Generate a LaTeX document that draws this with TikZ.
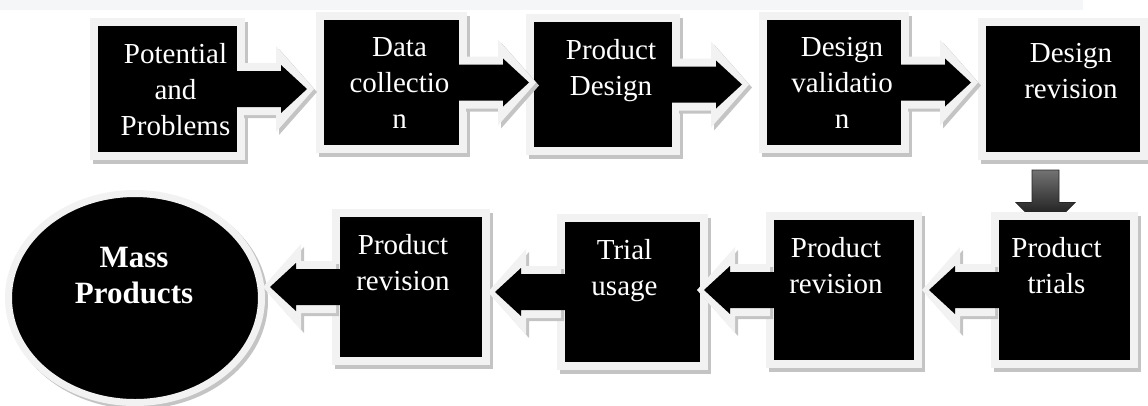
\documentclass[tikz,border=0pt]{standalone}
\usepackage{fontspec}
\setmainfont{Liberation Serif}
\usetikzlibrary{calc,shadows,shapes.geometric,backgrounds}
\definecolor{framegray}{HTML}{F2F2F2}
\definecolor{shadegray}{HTML}{C4C4C4}
\definecolor{bandgray}{HTML}{F5F6F8}
\tikzset{
	stage/.style={rectangle, fill=black, draw=framegray, line width=8pt, inner sep=0pt, outer sep=0pt,
		drop shadow={shadow xshift=3pt, shadow yshift=-4pt, fill=shadegray, draw=shadegray, line width=8pt, opacity=1}},
	goal/.style={ellipse, fill=black, draw=framegray, line width=7pt, inner sep=0pt, outer sep=0pt,
		drop shadow={shadow xshift=3pt, shadow yshift=-3pt, fill=shadegray, draw=shadegray, line width=7pt, opacity=1}},
	stagetext/.style={text=white, font=\fontsize{29}{36}\selectfont, align=center, inner sep=0pt, anchor=north},
	goaltext/.style={text=white, font=\fontsize{31}{36}\selectfont\bfseries, align=center, inner sep=0pt, anchor=north}
}
\def\arrowframe[#1]{([shift={(0,-26)}]s) -- ([shift={({-31*(#1)},-26)}]t) -- ([shift={({-31*(#1)},-43)}]t) -- ([shift={({7*(#1)},0)}]t) -- ([shift={({-31*(#1)},43)}]t) -- ([shift={({-31*(#1)},26)}]t) -- ([shift={(0,26)}]s) -- cycle}
\def\blockarrow(#1)(#2)[#3]{%
	\coordinate (s) at (#1);
	\coordinate (t) at ($(#1)!66pt!(#2 |- #1)$);
	\fill[shadegray, transform canvas={xshift=3pt,yshift=-3pt}] \arrowframe[#3];
	\fill[framegray] \arrowframe[#3];
	\fill[black] ([shift={({-6*(#3)},-18)}]s) -- ([shift={({-26*(#3)},-18)}]t) -- ([shift={({-26*(#3)},-24)}]t) -- (t) -- ([shift={({-26*(#3)},24)}]t) -- ([shift={({-26*(#3)},18)}]t) -- ([shift={({-6*(#3)},18)}]s) -- cycle;
}
\begin{document}
\begin{tikzpicture}[x=1pt,y=-1pt]
			%%%%% START %%%%%
			\useasboundingbox (0,0) rectangle (1148,405);
			\fill[bandgray] (0,0) rectangle (1083,10);
			
			% top row
			\node[stage, minimum width=147pt, minimum height=134pt] (pot) at (167.5,89) {};
			\node[stage, minimum width=143pt, minimum height=133pt] (data) at (391.5,82.5) {};
			\node[stage, minimum width=146pt, minimum height=133pt] (design) at (603,84.5) {};
			\node[stage, minimum width=142pt, minimum height=133pt] (valid) at (834,82.5) {};
			\node[stage, minimum width=162pt, minimum height=134pt] (rev) at (1063,89) {};
			
			% bottom row
			\node[stage, minimum width=139pt, minimum height=148pt] (trials) at (1064.5,290) {};
			\node[stage, minimum width=148pt, minimum height=148pt] (prevb) at (844,290) {};
			\node[stage, minimum width=143pt, minimum height=148pt] (usage) at (632.5,292) {};
			\node[stage, minimum width=150pt, minimum height=148pt] (preva) at (411,287) {};
			\node[goal, minimum width=253pt, minimum height=209pt] (mass) at (135,298) {};
			
			\blockarrow(pot.east)(data.west)[1]
			\blockarrow(data.east)(design.west)[1]
			\blockarrow(design.east)(valid.west)[1]
			\blockarrow(valid.east)(rev.west)[1]
			\blockarrow(trials.west)(prevb.east)[-1]
			\blockarrow(prevb.west)(usage.east)[-1]
			\blockarrow(usage.west)(preva.east)[-1]
			\blockarrow(preva.west)(mass.east)[-1]
			
			\begin{scope}[on background layer]
				\coordinate (d1) at ($(rev.south)+(-17.5,14)$);
				\coordinate (d2) at ($(d1 |- trials.north)+(0,16)$);
				\shade[draw=black!85, line width=0.8pt, top color=black!55, bottom color=black]
					([xshift=-13.5pt]d1) -- ([xshift=-13.5pt,yshift=29.5pt]d2) -- ([xshift=-29.5pt,yshift=29.5pt]d2) -- (d2)
					-- ([xshift=29.5pt,yshift=29.5pt]d2) -- ([xshift=13.5pt,yshift=29.5pt]d2) -- ([xshift=13.5pt]d1) -- cycle;
			\end{scope}
			
			\node[stagetext] (pot-txt) at ([xshift=8pt,yshift=-21.5pt]pot.north) {Potential\\and\\Problems};
			\node[stagetext] (data-txt) at ([xshift=8pt,yshift=-21.5pt]data.north) {Data\\collectio\\n};
			\node[stagetext] (design-txt) at ([xshift=8pt,yshift=-21.5pt]design.north) {Product\\Design};
			\node[stagetext] (valid-txt) at ([xshift=8pt,yshift=-21.5pt]valid.north) {Design\\validatio\\n};
			\node[stagetext] (rev-txt) at ([xshift=8pt,yshift=-21.5pt]rev.north) {Design\\revision};
			\node[stagetext] (trials-txt) at ([xshift=-8pt,yshift=-21.5pt]trials.north) {Product\\trials};
			\node[stagetext] (prevb-txt) at ([xshift=-8pt,yshift=-21.5pt]prevb.north) {Product\\revision};
			\node[stagetext] (usage-txt) at ([xshift=-8pt,yshift=-21.5pt]usage.north) {Trial\\usage};
			\node[stagetext] (preva-txt) at ([xshift=-8pt,yshift=-21.5pt]preva.north) {Product\\revision};
			\node[goaltext] (mass-txt) at ([xshift=-1pt,yshift=-53pt]mass.north) {Mass\\Products};
			
			%%%%% END %%%%%
\end{tikzpicture}
\end{document}
